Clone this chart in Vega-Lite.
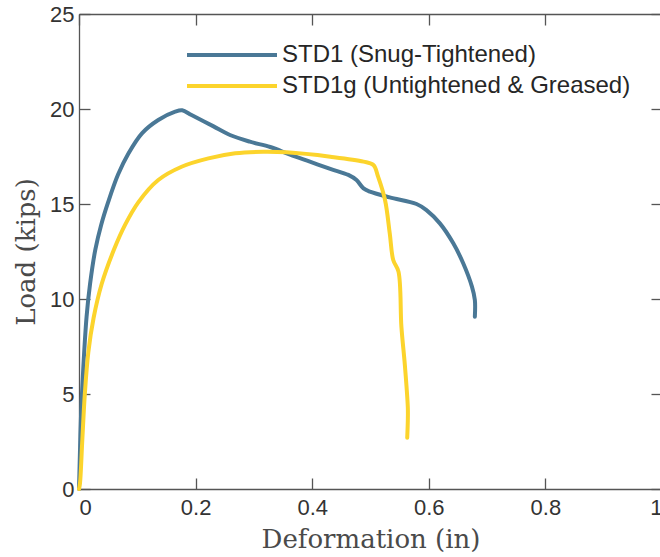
{
  "$schema": "https://vega.github.io/schema/vega-lite/v6.json",
  "width": 583,
  "height": 475,
  "autosize": {"type": "none"},
  "padding": {"left": 79, "top": 14, "right": -2, "bottom": 68},
  "background": "white",
  "config": {
    "view": {"stroke": null},
    "axis": {
      "grid": false,
      "domainColor": "#555555",
      "domainWidth": 1.3,
      "tickColor": "#555555",
      "tickWidth": 1.3,
      "tickSize": -11,
      "labelFont": "Liberation Sans",
      "labelFontSize": 22,
      "labelColor": "#333333",
      "titleFont": "DejaVu Serif",
      "titleFontSize": 26,
      "titleFontWeight": "normal",
      "titleColor": "#4a4a4a"
    }
  },
  "data": {
    "values": [
      {"s": "STD1 (Snug-Tightened)", "i": 0, "x": 0, "y": 0},
      {"s": "STD1 (Snug-Tightened)", "i": 1, "x": 0.001, "y": 1.2},
      {"s": "STD1 (Snug-Tightened)", "i": 2, "x": 0.0034, "y": 3.8},
      {"s": "STD1 (Snug-Tightened)", "i": 3, "x": 0.0074, "y": 6.4},
      {"s": "STD1 (Snug-Tightened)", "i": 4, "x": 0.013, "y": 9.07},
      {"s": "STD1 (Snug-Tightened)", "i": 5, "x": 0.019, "y": 10.8},
      {"s": "STD1 (Snug-Tightened)", "i": 6, "x": 0.028, "y": 12.6},
      {"s": "STD1 (Snug-Tightened)", "i": 7, "x": 0.038, "y": 13.9},
      {"s": "STD1 (Snug-Tightened)", "i": 8, "x": 0.05, "y": 15.1},
      {"s": "STD1 (Snug-Tightened)", "i": 9, "x": 0.067, "y": 16.55},
      {"s": "STD1 (Snug-Tightened)", "i": 10, "x": 0.085, "y": 17.67},
      {"s": "STD1 (Snug-Tightened)", "i": 11, "x": 0.108, "y": 18.72},
      {"s": "STD1 (Snug-Tightened)", "i": 12, "x": 0.136, "y": 19.42},
      {"s": "STD1 (Snug-Tightened)", "i": 13, "x": 0.165, "y": 19.86},
      {"s": "STD1 (Snug-Tightened)", "i": 14, "x": 0.177, "y": 19.93},
      {"s": "STD1 (Snug-Tightened)", "i": 15, "x": 0.193, "y": 19.68},
      {"s": "STD1 (Snug-Tightened)", "i": 16, "x": 0.23, "y": 19.1},
      {"s": "STD1 (Snug-Tightened)", "i": 17, "x": 0.259, "y": 18.63},
      {"s": "STD1 (Snug-Tightened)", "i": 18, "x": 0.293, "y": 18.28},
      {"s": "STD1 (Snug-Tightened)", "i": 19, "x": 0.328, "y": 18.0},
      {"s": "STD1 (Snug-Tightened)", "i": 20, "x": 0.362, "y": 17.6},
      {"s": "STD1 (Snug-Tightened)", "i": 21, "x": 0.396, "y": 17.23},
      {"s": "STD1 (Snug-Tightened)", "i": 22, "x": 0.431, "y": 16.85},
      {"s": "STD1 (Snug-Tightened)", "i": 23, "x": 0.462, "y": 16.53},
      {"s": "STD1 (Snug-Tightened)", "i": 24, "x": 0.476, "y": 16.26},
      {"s": "STD1 (Snug-Tightened)", "i": 25, "x": 0.488, "y": 15.82},
      {"s": "STD1 (Snug-Tightened)", "i": 26, "x": 0.499, "y": 15.65},
      {"s": "STD1 (Snug-Tightened)", "i": 27, "x": 0.533, "y": 15.35},
      {"s": "STD1 (Snug-Tightened)", "i": 28, "x": 0.579, "y": 15.0},
      {"s": "STD1 (Snug-Tightened)", "i": 29, "x": 0.596, "y": 14.68},
      {"s": "STD1 (Snug-Tightened)", "i": 30, "x": 0.619, "y": 13.98},
      {"s": "STD1 (Snug-Tightened)", "i": 31, "x": 0.642, "y": 12.93},
      {"s": "STD1 (Snug-Tightened)", "i": 32, "x": 0.659, "y": 11.88},
      {"s": "STD1 (Snug-Tightened)", "i": 33, "x": 0.674, "y": 10.65},
      {"s": "STD1 (Snug-Tightened)", "i": 34, "x": 0.679, "y": 9.95},
      {"s": "STD1 (Snug-Tightened)", "i": 35, "x": 0.679, "y": 9.07},
      {"s": "STD1g (Untightened & Greased)", "i": 0, "x": 0, "y": 0},
      {"s": "STD1g (Untightened & Greased)", "i": 1, "x": 0.0017, "y": 0.3},
      {"s": "STD1g (Untightened & Greased)", "i": 2, "x": 0.0057, "y": 2.6},
      {"s": "STD1g (Untightened & Greased)", "i": 3, "x": 0.01, "y": 5.0},
      {"s": "STD1g (Untightened & Greased)", "i": 4, "x": 0.016, "y": 7.2},
      {"s": "STD1g (Untightened & Greased)", "i": 5, "x": 0.025, "y": 9.0},
      {"s": "STD1g (Untightened & Greased)", "i": 6, "x": 0.039, "y": 10.8},
      {"s": "STD1g (Untightened & Greased)", "i": 7, "x": 0.06, "y": 12.6},
      {"s": "STD1g (Untightened & Greased)", "i": 8, "x": 0.079, "y": 13.9},
      {"s": "STD1g (Untightened & Greased)", "i": 9, "x": 0.102, "y": 15.1},
      {"s": "STD1g (Untightened & Greased)", "i": 10, "x": 0.136, "y": 16.26},
      {"s": "STD1g (Untightened & Greased)", "i": 11, "x": 0.176, "y": 16.96},
      {"s": "STD1g (Untightened & Greased)", "i": 12, "x": 0.222, "y": 17.4},
      {"s": "STD1g (Untightened & Greased)", "i": 13, "x": 0.268, "y": 17.67},
      {"s": "STD1g (Untightened & Greased)", "i": 14, "x": 0.316, "y": 17.75},
      {"s": "STD1g (Untightened & Greased)", "i": 15, "x": 0.356, "y": 17.72},
      {"s": "STD1g (Untightened & Greased)", "i": 16, "x": 0.431, "y": 17.49},
      {"s": "STD1g (Untightened & Greased)", "i": 17, "x": 0.488, "y": 17.23},
      {"s": "STD1g (Untightened & Greased)", "i": 18, "x": 0.505, "y": 17.05},
      {"s": "STD1g (Untightened & Greased)", "i": 19, "x": 0.513, "y": 16.44},
      {"s": "STD1g (Untightened & Greased)", "i": 20, "x": 0.525, "y": 15.2},
      {"s": "STD1g (Untightened & Greased)", "i": 21, "x": 0.533, "y": 13.46},
      {"s": "STD1g (Untightened & Greased)", "i": 22, "x": 0.539, "y": 12.05},
      {"s": "STD1g (Untightened & Greased)", "i": 23, "x": 0.548, "y": 11.44},
      {"s": "STD1g (Untightened & Greased)", "i": 24, "x": 0.553, "y": 8.54},
      {"s": "STD1g (Untightened & Greased)", "i": 25, "x": 0.559, "y": 6.5},
      {"s": "STD1g (Untightened & Greased)", "i": 26, "x": 0.564, "y": 4.3},
      {"s": "STD1g (Untightened & Greased)", "i": 27, "x": 0.564, "y": 3.6},
      {"s": "STD1g (Untightened & Greased)", "i": 28, "x": 0.563, "y": 2.7}
    ]
  },
  "layer": [
    {
      "mark": {"type": "line", "strokeWidth": 4, "strokeCap": "round", "strokeJoin": "round", "interpolate": "catmull-rom"},
      "encoding": {
        "x": {"field": "x", "type": "quantitative", "scale": {"domain": [0, 1], "nice": false},
              "axis": {"values": [0, 0.2, 0.4, 0.6, 0.8, 1], "format": "~g", "title": "Deformation (in)", "labelPadding": 19, "titlePadding": 8}},
        "y": {"field": "y", "type": "quantitative", "scale": {"domain": [0, 25], "nice": false},
              "axis": {"values": [0, 5, 10, 15, 20, 25], "title": "Load (kips)", "labelPadding": 16, "titlePadding": 10}},
        "color": {"field": "s", "type": "nominal",
                  "scale": {"domain": ["STD1 (Snug-Tightened)", "STD1g (Untightened & Greased)"], "range": ["#4a7896", "#fcd42c"]},
                  "legend": {"title": null, "orient": "none", "legendX": 136, "legendY": 24,
                             "symbolType": "M-3,0H3", "symbolSize": 900, "symbolStrokeWidth": 4,
                             "labelFont": "Liberation Sans", "labelFontSize": 24, "labelColor": "#262626",
                             "labelLimit": 500, "labelOffset": 33, "rowPadding": 2}},
        "order": {"field": "i", "type": "quantitative"}
      }
    },
    {
      "mark": {"type": "line", "opacity": 0},
      "encoding": {
        "x": {"field": "x", "type": "quantitative", "scale": {"domain": [0, 1], "nice": false},
              "axis": {"orient": "top", "values": [0, 0.2, 0.4, 0.6, 0.8, 1], "labels": false, "title": null}},
        "y": {"field": "y", "type": "quantitative", "scale": {"domain": [0, 25], "nice": false},
              "axis": {"orient": "right", "values": [0, 5, 10, 15, 20, 25], "labels": false, "title": null}},
        "detail": {"field": "s", "type": "nominal"},
        "order": {"field": "i", "type": "quantitative"}
      }
    }
  ],
  "resolve": {"axis": {"x": "independent", "y": "independent"}}
}
